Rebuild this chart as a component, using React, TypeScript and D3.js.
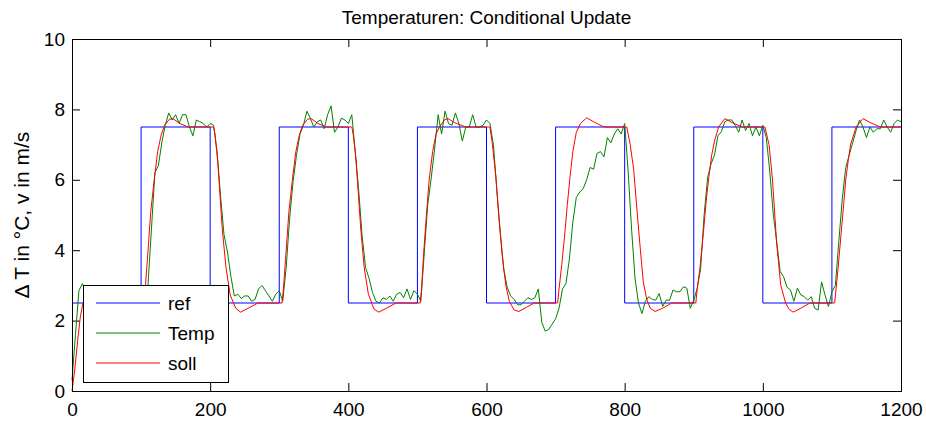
import React, { useRef, useEffect } from 'react';
import * as d3 from 'd3';

// reference: value holds from each time until the next one
const refTimes = [0, 100, 200, 300, 400, 500, 600, 700, 800, 900, 1000, 1100, 1200];
const refValues = [2.5, 7.5, 2.5, 7.5, 2.5, 7.5, 2.5, 7.5, 2.5, 7.5, 2.5, 7.5, 7.5];

// measured temperature, one sample every 5 time units from t = 0
const tempStep = 5;
const tempValues = [
  0.3, 1.6, 2.85, 3.05, 2.8, 2.7, 2.5, 2.6, 2.8, 2.55, 2.7, 2.6, 2.75, 2.5, 2.65, 2.8, 2.55, 2.7, 2.6, 2.75, 2.6,
  2.8, 3.0, 4.6, 6.2, 6.4, 7.05, 7.55, 7.9, 7.7, 7.85, 7.6, 7.85, 7.85, 7.5, 7.25, 7.7, 7.65, 7.6, 7.5, 7.6,
  7.55, 6.8, 5.55, 4.45, 3.95, 3.25, 2.7, 2.75, 2.63, 2.7, 2.7, 2.55, 2.6, 2.9, 3.0, 2.85, 2.7, 2.55, 2.75, 2.85,
  2.55, 3.5, 4.9, 5.95, 6.7, 7.3, 7.55, 7.95, 7.75, 7.5, 7.65, 7.7, 7.45, 7.85, 8.1, 7.35, 7.5, 7.75, 7.7, 7.6,
  7.85, 6.8, 5.7, 4.4, 3.5, 3.2, 2.8, 2.55, 2.5, 2.65, 2.6, 2.7, 2.55, 2.75, 2.8, 2.65, 2.9, 2.6, 2.85, 2.75,
  2.55, 3.95, 5.3, 6.05, 6.9, 7.85, 7.3, 7.95, 7.6, 7.55, 7.9, 7.6, 7.1, 7.5, 7.5, 7.85, 7.5, 7.5, 7.55, 7.7,
  7.6, 7.0, 5.7, 4.5, 3.45, 2.95, 2.7, 2.6, 2.45, 2.45, 2.55, 2.65, 2.6, 2.65, 2.9, 1.95, 1.7, 1.75, 1.9, 2.05,
  2.35, 2.9, 3.05, 3.75, 4.8, 5.5, 5.65, 5.75, 6.0, 6.35, 6.3, 6.75, 6.8, 6.65, 7.2, 7.05, 7.3, 7.45, 7.3, 7.6,
  6.25, 4.6, 3.2, 2.5, 2.2, 2.55, 2.68, 2.6, 2.58, 2.77, 2.4, 2.58, 2.58, 2.87, 2.82, 2.82, 2.96, 2.92, 2.35, 2.58,
  2.92, 3.48, 5.0, 6.05, 6.45, 6.7, 7.25, 7.37, 7.65, 7.7, 7.7, 7.55, 7.35, 7.7, 7.4, 7.6, 7.25, 7.5, 7.25, 7.55,
  7.2, 6.25, 5.05, 4.25, 3.4, 3.25, 2.95, 2.87, 2.55, 2.92, 2.73, 2.68, 2.58, 2.68, 2.35, 2.3, 3.1, 2.73, 2.4, 2.82,
  3.0, 4.25, 5.45, 6.35, 6.7, 7.05, 7.4, 7.7, 7.5, 7.2, 7.5, 7.35, 7.45, 7.45, 7.7, 7.5, 7.35, 7.6, 7.7, 7.65
];

// setpoint curve as [time, value]
const sollPoints = [
  [0, 0], [4, 0.6], [8, 1.4], [12, 2.1], [16, 2.5], [104, 2.5],
  [106, 2.9], [109, 3.7], [114, 5.1], [119, 6.0], [124, 6.8], [129, 7.27], [134, 7.55], [141, 7.72], [146, 7.74], [156, 7.6], [168, 7.5], [205, 7.5],
  [207, 7.3], [211, 6.5], [217.5, 4.6], [223, 3.5], [229, 2.73], [237, 2.35], [244, 2.24], [255, 2.35], [269, 2.5], [304, 2.5],
  [306, 2.9], [309, 3.7], [314, 5.1], [319, 6.0], [324, 6.8], [329, 7.27], [334, 7.55], [341, 7.72], [346, 7.74], [356, 7.6], [368, 7.5], [405, 7.5],
  [407, 7.3], [411, 6.6], [418, 4.6], [423, 3.5], [429, 2.75], [437, 2.33], [444, 2.24], [455, 2.35], [469, 2.5], [504, 2.5],
  [506, 2.9], [509, 3.9], [513, 5.0], [517, 6.0], [522, 6.8], [527, 7.3], [532, 7.5], [539, 7.7], [544, 7.74], [554, 7.62], [570, 7.5], [605, 7.5],
  [608, 7.1], [613.5, 6.1], [618, 4.9], [623, 3.8], [628, 3.0], [633, 2.55], [640, 2.3], [647, 2.26], [658, 2.38], [669, 2.5], [703, 2.5],
  [705, 2.9], [709, 3.6], [713, 4.4], [717, 5.3], [721, 6.1], [725, 6.8], [730, 7.35], [736, 7.6], [745, 7.76], [755, 7.65], [770, 7.5], [803, 7.5],
  [808, 7.0], [813, 6.3], [818, 5.1], [823, 3.95], [827, 3.1], [832, 2.6], [837, 2.35], [844, 2.26], [855, 2.35], [868, 2.5], [903, 2.5],
  [905, 2.9], [909, 3.5], [914, 4.5], [918, 5.4], [922, 6.1], [926, 6.7], [930, 7.1], [936, 7.5], [945, 7.74], [955, 7.63], [970, 7.5], [1003, 7.5],
  [1009, 7.0], [1014, 6.0], [1020, 4.2], [1026, 3.0], [1033, 2.5], [1038, 2.32], [1044, 2.24], [1055, 2.35], [1068, 2.5], [1104, 2.5],
  [1106, 2.9], [1109, 3.5], [1113, 4.4], [1117, 5.3], [1120, 6.0], [1124, 6.6], [1127, 7.0], [1135, 7.5], [1145, 7.74], [1155, 7.63], [1170, 7.5], [1200, 7.5]
];

const xTicks = [0, 200, 400, 600, 800, 1000, 1200];
const yTicks = [0, 2, 4, 6, 8, 10];
const legendNames = ['ref', 'Temp', 'soll'];

const App = () => {
  const chartRef = useRef<SVGSVGElement>(null);

  useEffect(() => {
    const width = 926;
    const height = 421;
    const margin = { top: 39, right: 25, bottom: 30, left: 72 };
    const font = '"Liberation Sans", Arial, Helvetica, sans-serif';
    const colors = ['#0000ff', '#008000', '#ff0000'];
    const tick = 8;

    const svg = d3.select(chartRef.current);
    svg.selectAll('*').remove();
    svg.append('rect').attr('width', width).attr('height', height).attr('fill', '#fff');

    const x = d3.scaleLinear().domain([0, 1200]).range([margin.left, width - margin.right]);
    const y = d3.scaleLinear().domain([0, 10]).range([height - margin.bottom, margin.top]);

    // axes, ticks pointing inwards on all four sides
    const styleAxis = (g) => {
      g.select('.domain').remove();
      g.attr('font-size', 19).attr('font-family', font);
      g.selectAll('text').attr('fill', '#000');
    };
    svg.append('g')
      .attr('transform', `translate(0,${y(0)})`)
      .call(d3.axisBottom(x).tickValues(xTicks).tickSizeInner(-tick).tickSizeOuter(0).tickPadding(12).tickFormat((d) => String(d)))
      .call(styleAxis);
    svg.append('g')
      .attr('transform', `translate(0,${y(10)})`)
      .call(d3.axisTop(x).tickValues(xTicks).tickSizeInner(-tick).tickSizeOuter(0).tickFormat(() => ''))
      .call(styleAxis);
    svg.append('g')
      .attr('transform', `translate(${x(0)},0)`)
      .call(d3.axisLeft(y).tickValues(yTicks).tickSizeInner(-tick).tickSizeOuter(0).tickPadding(7).tickFormat((d) => String(d)))
      .call(styleAxis);
    svg.append('g')
      .attr('transform', `translate(${x(1200)},0)`)
      .call(d3.axisRight(y).tickValues(yTicks).tickSizeInner(-tick).tickSizeOuter(0).tickFormat(() => ''))
      .call(styleAxis);

    // lines
    const line = d3.line().x((d) => x(d[0])).y((d) => y(d[1]));
    svg.append('path')
      .datum(refTimes.map((t, i) => [t, refValues[i]]))
      .attr('fill', 'none').attr('stroke', colors[0]).attr('stroke-width', 1)
      .attr('d', line.curve(d3.curveStepAfter));
    svg.append('path')
      .datum(tempValues.map((v, i) => [i * tempStep, v]))
      .attr('fill', 'none').attr('stroke', colors[1]).attr('stroke-width', 1)
      .attr('d', line.curve(d3.curveLinear));
    svg.append('path')
      .datum(sollPoints)
      .attr('fill', 'none').attr('stroke', colors[2]).attr('stroke-width', 1)
      .attr('d', line.curve(d3.curveLinear));

    // plot box
    svg.append('rect')
      .attr('x', x(0)).attr('y', y(10))
      .attr('width', x(1200) - x(0)).attr('height', y(0) - y(10))
      .attr('fill', 'none').attr('stroke', '#000').attr('stroke-width', 1)
      .attr('shape-rendering', 'crispEdges');

    // title and y label
    svg.append('text')
      .attr('x', (x(0) + x(1200)) / 2).attr('y', 24)
      .attr('text-anchor', 'middle')
      .attr('font-family', font).attr('font-size', 19)
      .text('Temperaturen: Conditional Update');
    svg.append('text')
      .attr('transform', `translate(29,${(y(0) + y(10)) / 2}) rotate(-90)`)
      .attr('text-anchor', 'middle')
      .attr('font-family', font).attr('font-size', 21)
      .text('\u0394 T in \u00b0C, v in m/s');

    // legend
    const legend = svg.append('g').attr('transform', 'translate(83,285)');
    legend.append('rect')
      .attr('width', 145).attr('height', 97)
      .attr('fill', '#fff').attr('stroke', '#000').attr('stroke-width', 1)
      .attr('shape-rendering', 'crispEdges');
    legendNames.forEach((name, i) => {
      const ly = 18 + i * 30;
      legend.append('line')
        .attr('x1', 13).attr('x2', 77).attr('y1', ly).attr('y2', ly)
        .attr('stroke', colors[i]).attr('stroke-width', 1);
      legend.append('text')
        .attr('x', 85).attr('y', ly + 7)
        .attr('font-family', font).attr('font-size', 19)
        .text(name);
    });
  }, []);

  return (
    <svg ref={chartRef} width={926} height={421} style={{ position: 'absolute', left: 0, top: 0 }} />
  );
};

export default App;
